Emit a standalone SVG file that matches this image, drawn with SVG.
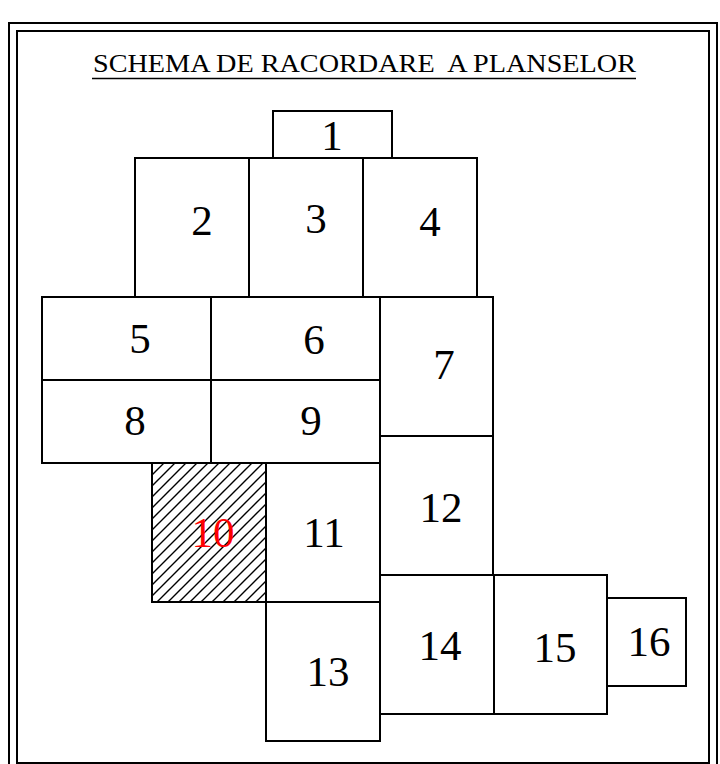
<svg xmlns="http://www.w3.org/2000/svg" width="720" height="764" viewBox="0 0 720 764">
<style>
.box{fill:#fff;stroke:#000;stroke-width:2}
.num{font-family:"Liberation Serif","Times New Roman",serif;font-size:43px;fill:#000;text-anchor:middle}
.title{font-family:"Liberation Serif","Times New Roman",serif;font-size:26px;fill:#000}
.frame{fill:none;stroke:#000;stroke-width:2}
</style>
<defs>
<pattern id="hatch" patternUnits="userSpaceOnUse" width="11" height="11">
<path d="M0,11 L11,0 M-2,2 L2,-2 M9,13 L13,9" stroke="#000" stroke-width="1.4"/>
</pattern>
</defs>
<rect width="720" height="764" fill="#fff"/>
<g id="frame">
<rect class="frame" x="9" y="23" width="708" height="750"/>
<rect class="frame" x="17" y="31" width="692" height="732"/>
</g>
<g id="title">
<text class="title" x="93" y="72" textLength="543" lengthAdjust="spacingAndGlyphs" xml:space="preserve">SCHEMA DE RACORDARE  A PLANSELOR</text>
<line x1="92" y1="78.5" x2="636" y2="78.5" stroke="#000" stroke-width="1.6"/>
</g>
<g id="node1"><rect class="box" x="273" y="111" width="119" height="47"/><text class="num" x="332" y="150">1</text></g>
<g id="node2"><rect class="box" x="135" y="158" width="114" height="139"/><text class="num" x="202" y="235">2</text></g>
<g id="node3"><rect class="box" x="249" y="158" width="114" height="139"/><text class="num" x="316" y="233">3</text></g>
<g id="node4"><rect class="box" x="363" y="158" width="114" height="139"/><text class="num" x="430" y="236">4</text></g>
<g id="node5"><rect class="box" x="42" y="297" width="169" height="83"/><text class="num" x="140" y="353">5</text></g>
<g id="node6"><rect class="box" x="211" y="297" width="169" height="83"/><text class="num" x="314" y="354">6</text></g>
<g id="node7"><rect class="box" x="380" y="297" width="113" height="139"/><text class="num" x="444" y="379">7</text></g>
<g id="node8"><rect class="box" x="42" y="380" width="169" height="83"/><text class="num" x="135" y="435">8</text></g>
<g id="node9"><rect class="box" x="211" y="380" width="169" height="83"/><text class="num" x="311" y="435">9</text></g>
<g id="node10"><rect x="152" y="463" width="114" height="139" fill="url(#hatch)" stroke="#000" stroke-width="2"/><text class="num" x="213" y="547" style="fill:#f00">10</text></g>
<g id="node11"><rect class="box" x="266" y="463" width="114" height="139"/><text class="num" x="324" y="547">11</text></g>
<g id="node12"><rect class="box" x="380" y="436" width="113" height="139"/><text class="num" x="441" y="522">12</text></g>
<g id="node13"><rect class="box" x="266" y="602" width="114" height="139"/><text class="num" x="328" y="686">13</text></g>
<g id="node14"><rect class="box" x="380" y="575" width="114" height="139"/><text class="num" x="440" y="660">14</text></g>
<g id="node15"><rect class="box" x="494" y="575" width="113" height="139"/><text class="num" x="555" y="662">15</text></g>
<g id="node16"><rect class="box" x="607" y="598" width="79" height="88"/><text class="num" x="649" y="656">16</text></g>
<g id="connectors"></g>
</svg>
